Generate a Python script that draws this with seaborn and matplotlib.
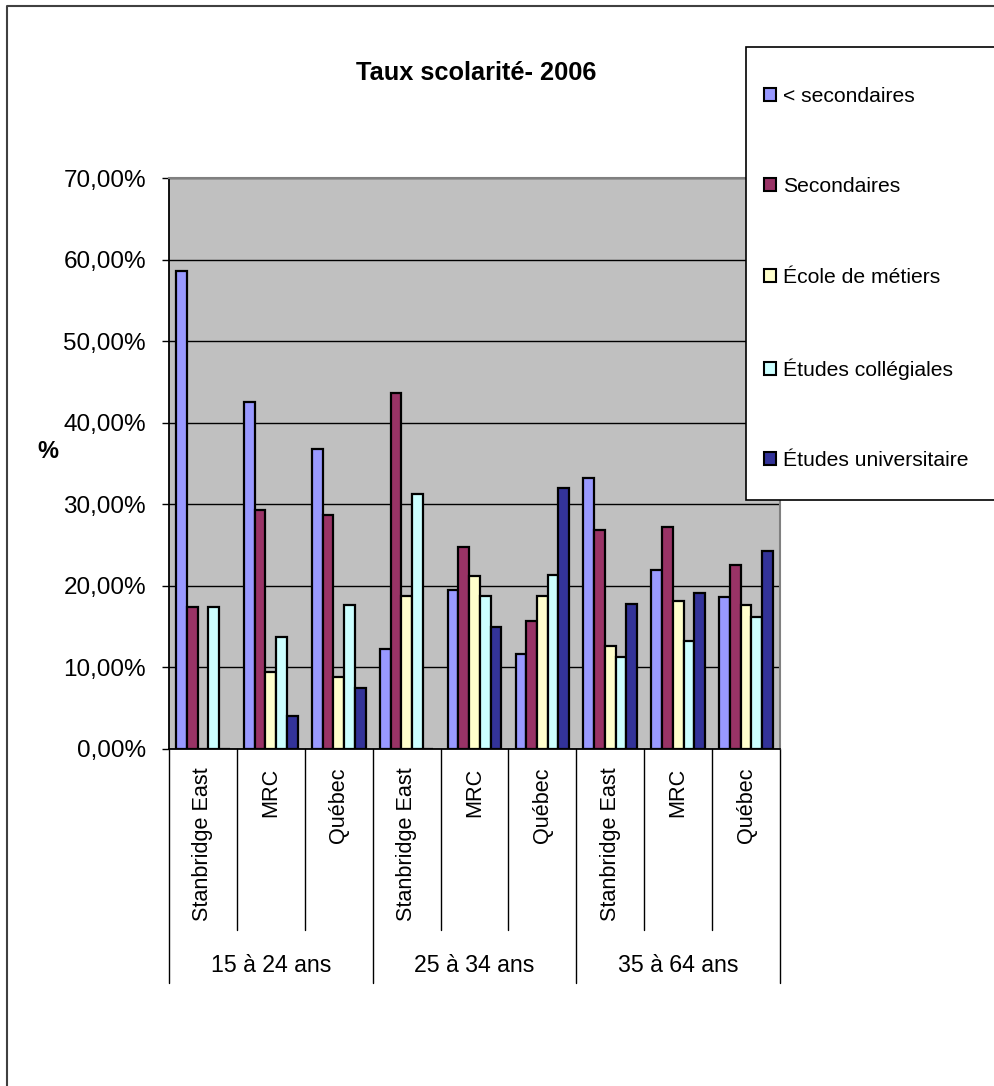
import numpy as np
import pandas as pd
import matplotlib.pyplot as plt
import seaborn as sns
from matplotlib.patches import Patch, Rectangle
from matplotlib.lines import Line2D

sns.set_style("white")
plt.rcParams['font.family'] = ['Liberation Sans', 'DejaVu Sans']
plt.rcParams['text.color'] = 'black'
plt.rcParams['xtick.color'] = 'black'
plt.rcParams['ytick.color'] = 'black'
plt.rcParams['axes.labelcolor'] = 'black'

# données (en %)
groupes = ["15 à 24 ans", "25 à 34 ans", "35 à 64 ans"]
lieux = ["Stanbridge East", "MRC", "Québec"]
niveaux = ["< secondaires", "Secondaires", "École de métiers",
           "Études collégiales", "Études universitaire"]

sous_secondaires = [58.6, 42.6, 36.8, 12.3, 19.5, 11.7, 33.2, 22.0, 18.6]
secondaires = [17.4, 29.3, 28.7, 43.7, 24.8, 15.7, 26.8, 27.2, 22.5]
ecole_metiers = [0.0, 9.5, 8.8, 18.7, 21.2, 18.7, 12.6, 18.1, 17.7]
collegiales = [17.4, 13.7, 17.7, 31.3, 18.7, 21.3, 11.3, 13.2, 16.2]
universitaire = [0.0, 4.1, 7.5, 0.0, 15.0, 32.0, 17.8, 19.1, 24.3]

couleurs = ["#9999FF", "#993366", "#FFFFCC", "#CCFFFF", "#333399"]

cles = [f"{g}|{l}" for g in groupes for l in lieux]
series = [sous_secondaires, secondaires, ecole_metiers, collegiales, universitaire]
rows = []
for niv, vals in zip(niveaux, series):
    for cle, v in zip(cles, vals):
        rows.append({"cle": cle, "niveau": niv, "taux": v})
df = pd.DataFrame(rows)

W, H = 995, 1086
fig = plt.figure(figsize=(W / 100, H / 100), dpi=100)
ax = fig.add_axes([169 / W, 1 - 749 / H, 611 / W, 571 / H])

sns.barplot(data=df, x="cle", y="taux", hue="niveau", order=cles,
            hue_order=niveaux, palette=couleurs, saturation=1,
            width=0.79, gap=0, edgecolor="black", linewidth=1.6,
            errorbar=None, legend=False, ax=ax)

ax.set_facecolor("#C0C0C0")
ax.set_ylim(0, 70)
ax.set_xlim(-0.5, 8.5)
ax.set_yticks(np.arange(0, 71, 10))
ax.set_yticklabels([f"{v:.2f}".replace(".", ",") + "%" for v in np.arange(0, 71, 10)])
ax.yaxis.grid(True, color="black", linewidth=1)
ax.set_axisbelow(True)
ax.set_xlabel("")
ax.set_ylabel("")
ax.tick_params(axis="y", length=5, width=1, direction="out", pad=11.5,
               labelsize=17.5, left=True)
ax.set_xticks(range(len(cles)))
ax.set_xticklabels(lieux * 3, rotation=90, va="top", ha="center", fontsize=15.6)
ax.tick_params(axis="x", length=0, pad=13.5)

for side in ["left", "bottom"]:
    ax.spines[side].set_color("black")
    ax.spines[side].set_linewidth(1.3)
for side in ["top", "right"]:
    ax.spines[side].set_color("#808080")
    ax.spines[side].set_linewidth(1.5)

# séparateurs de catégories
trans = ax.get_xaxis_transform()
for i in range(len(cles) + 1):
    y_end = -234 / 571 if i % 3 == 0 else -181 / 571
    ax.add_line(Line2D([i - 0.5, i - 0.5], [0, y_end], transform=trans,
                       color="black", lw=1, clip_on=False))
for j, g in enumerate(groupes):
    ax.text(3 * j + 1, -(966 - 749) / 571, g, transform=trans,
            ha="center", va="center", fontsize=16.7)

fig.text(476 / W, 1 - 73 / H, "Taux scolarité- 2006", ha="center", va="center",
         fontsize=18.3, fontweight="bold")
fig.text(48 / W, 1 - 451 / H, "%", ha="center", va="center",
         fontsize=17, fontweight="bold")

# légende
fig.add_artist(Rectangle((746 / W, 1 - 500 / H), 260 / W, 453 / H,
                         transform=fig.transFigure, facecolor="white",
                         edgecolor="black", lw=1.2, zorder=4))
handles = [Patch(facecolor=c, edgecolor="black", linewidth=1.5, label=n)
           for c, n in zip(couleurs, niveaux)]
fig.legend(handles=handles, loc="upper left",
           bbox_to_anchor=(764 / W, 1 - 87 / H), frameon=False, fontsize=15.2,
           handlelength=0.57, handleheight=0.57, handletextpad=0.35,
           labelspacing=3.38, borderpad=0, borderaxespad=0)

# cadre extérieur
fig.add_artist(Line2D([7 / W, 7 / W, 1], [0, 1 - 6 / H, 1 - 6 / H],
                      transform=fig.transFigure, color="#404040", lw=1.5))

fig.savefig("out.png", dpi=100)
